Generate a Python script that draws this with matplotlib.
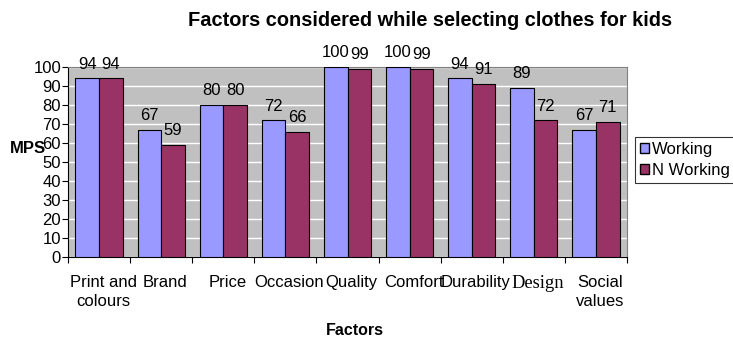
import matplotlib.pyplot as plt
import numpy as np
from matplotlib.patches import Patch
from matplotlib.transforms import ScaledTranslation

factors = ['Print and\ncolours', 'Brand', 'Price', 'Occasion', 'Quality',
           'Comfort', 'Durability', 'Design', 'Social\nvalues']
working = [94, 67, 80, 72, 100, 100, 94, 89, 67]
n_working = [94, 59, 80, 66, 99, 99, 91, 72, 71]
y_ticks = list(range(0, 101, 10))

plt.rcParams['font.family'] = ['Liberation Sans', 'DejaVu Sans']

fig = plt.figure(figsize=(7.33, 3.40), dpi=100)
ax = fig.add_axes([0.0928, 0.2441, 0.7626, 0.559])

x = np.arange(len(factors))
w = 0.38
b1 = ax.bar(x - w / 2, working, w, color='#9999FF', edgecolor='black', linewidth=0.8, zorder=3)
b2 = ax.bar(x + w / 2, n_working, w, color='#993366', edgecolor='black', linewidth=0.8, zorder=3)

for bars in (b1, b2):
    for r in bars:
        ax.text(r.get_x() + r.get_width() / 2, r.get_height() + 3.5, '%d' % r.get_height(),
                ha='center', va='bottom', fontsize=12)

ax.set_facecolor('#C0C0C0')
ax.set_xlim(-0.5, len(factors) - 0.5)
ax.set_ylim(0, 100)
ax.set_yticks(y_ticks)
ax.yaxis.grid(True, color='white', linewidth=1, zorder=0)
ax.tick_params(axis='y', labelsize=12, length=4, pad=1)

# ticks sit between groups, labels at group centres
ax.set_xticks(np.arange(len(factors) + 1) - 0.5)
ax.set_xticklabels([])
ax.set_xticks(x, minor=True)
ax.set_xticklabels(factors, minor=True, fontsize=12, linespacing=1.35)
ax.tick_params(axis='x', which='major', length=4)
ax.tick_params(axis='x', which='minor', length=0, pad=13)
shift = ScaledTranslation(4 / 100, 0, fig.dpi_scale_trans)
for lbl in ax.get_xticklabels(minor=True):
    lbl.set_transform(lbl.get_transform() + shift)
    if lbl.get_text() == 'Design':
        lbl.set_family('Liberation Serif')
        lbl.set_fontsize(13.3)

for s in ('top', 'right'):
    ax.spines[s].set_color('#808080')
ax.spines['left'].set_color('black')
ax.spines['bottom'].set_color('black')

fig.text(0.587, 0.94, 'Factors considered while selecting clothes for kids',
         ha='center', va='center', fontsize=14.4, fontweight='bold')
ax.set_xlabel('Factors', fontsize=11.5, fontweight='bold', labelpad=10)
ax.xaxis.label.set_x(0.513)
ax.set_ylabel('MPS', fontsize=12, fontweight='bold', rotation=0, labelpad=2)
ax.yaxis.set_label_coords(-0.072, 0.53)

handles = [Patch(facecolor='#9999FF', edgecolor='black', label='Working'),
           Patch(facecolor='#993366', edgecolor='black', label='N Working')]
leg = fig.legend(handles=handles, loc='center left', bbox_to_anchor=(0.866, 0.53),
                 fontsize=12, frameon=True, fancybox=False, edgecolor='black',
                 handlelength=0.55, handleheight=0.55, handletextpad=0.2,
                 borderpad=0.3, labelspacing=0.35, borderaxespad=0)
leg.get_frame().set_linewidth(0.8)

fig.savefig('out.png', dpi=100)
